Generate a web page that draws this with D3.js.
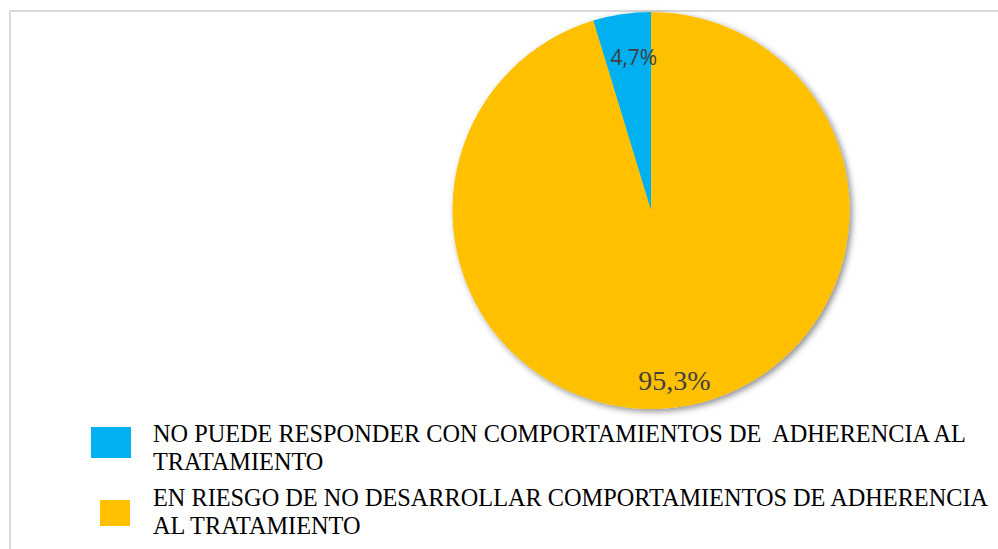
<!DOCTYPE html>
<html>
<head>
<meta charset="utf-8">
<script src="https://cdn.jsdelivr.net/npm/d3@7"></script>
<style>
  html, body { margin: 0; padding: 0; background: #ffffff; }
  svg { display: block; }
</style>
</head>
<body>
<svg id="chart" width="998" height="549"></svg>
<script>
// Adherence risk categories and their shares (%)
const categories = [
  "NO PUEDE RESPONDER CON COMPORTAMIENTOS DE  ADHERENCIA AL TRATAMIENTO",
  "EN RIESGO DE NO DESARROLLAR COMPORTAMIENTOS DE ADHERENCIA AL TRATAMIENTO"
];
const values = [4.7, 95.3];
const valueLabels = ["4,7%", "95,3%"];
const legendLines = [
  ["NO PUEDE RESPONDER CON COMPORTAMIENTOS DE  ADHERENCIA AL", "TRATAMIENTO"],
  ["EN RIESGO DE NO DESARROLLAR COMPORTAMIENTOS DE ADHERENCIA", "AL TRATAMIENTO"]
];
const colors = ["#00b0f0", "#ffc000"];

const svg = d3.select("#chart");

// chart area frame
svg.append("rect")
  .attr("x", 10).attr("y", 11)
  .attr("width", 1000).attr("height", 560)
  .attr("fill", "#ffffff")
  .attr("stroke", "#d9d9d9")
  .attr("stroke-width", 2);

// soft shadow under the pie
const defs = svg.append("defs");
const f = defs.append("filter").attr("id", "pieShadow")
  .attr("x", "-10%").attr("y", "-10%").attr("width", "125%").attr("height", "125%");
f.append("feDropShadow")
  .attr("dx", 2.5).attr("dy", 2.5).attr("stdDeviation", 3)
  .attr("flood-color", "#000000").attr("flood-opacity", 0.45);

const cx = 651, cy = 210.5, r = 198.5;
const total = d3.sum(values);
const start = -values[0] / total * 2 * Math.PI;

const pie = d3.pie().sort(null).value(d => d)
  .startAngle(start).endAngle(start + 2 * Math.PI);
const arcs = pie(values);
const arc = d3.arc().innerRadius(0).outerRadius(r);

const g = svg.append("g").attr("transform", `translate(${cx},${cy})`);
const slices = g.append("g").attr("filter", "url(#pieShadow)");
slices.selectAll("path")
  .data(arcs)
  .join("path")
  .attr("d", arc)
  .attr("fill", (d, i) => colors[i]);

// value labels
const labelArc0 = d3.arc().innerRadius(r * 0.76).outerRadius(r * 0.76);
const c0 = labelArc0.centroid(arcs[0]);
g.append("text")
  .attr("x", c0[0] + 5).attr("y", c0[1] + 4)
  .attr("text-anchor", "middle")
  .attr("font-family", "'Open Sans', 'Noto Sans', sans-serif")
  .attr("font-size", 21)
  .attr("fill", "#404040")
  .text(valueLabels[0]);

const labelArc1 = d3.arc().innerRadius(r * 0.90).outerRadius(r * 0.90);
const c1 = labelArc1.centroid(arcs[1]);
g.append("text")
  .attr("x", c1[0] - 3).attr("y", c1[1] + 3)
  .attr("text-anchor", "middle")
  .attr("font-family", "'Liberation Serif', 'Times New Roman', serif")
  .attr("font-size", 28)
  .attr("fill", "#404040")
  .text(valueLabels[1]);

// legend
const legendItems = [
  { sx: 91, sy: 427, sw: 40, sh: 31, ty: 441.7 },
  { sx: 100, sy: 500, sw: 30, sh: 26, ty: 505.7 }
];
const legend = svg.append("g");
categories.forEach((c, i) => {
  const it = legendItems[i];
  legend.append("rect")
    .attr("x", it.sx).attr("y", it.sy)
    .attr("width", it.sw).attr("height", it.sh)
    .attr("fill", colors[i]);
  const t = legend.append("text")
    .attr("font-family", "'Liberation Serif', 'Times New Roman', serif")
    .attr("font-size", 24.3)
    .attr("fill", "#000000")
    .attr("xml:space", "preserve")
    .style("white-space", "pre");
  legendLines[i].forEach((line, k) => {
    t.append("tspan").attr("x", 153).attr("y", it.ty + k * 27.8).text(line);
  });
});
</script>
</body>
</html>
